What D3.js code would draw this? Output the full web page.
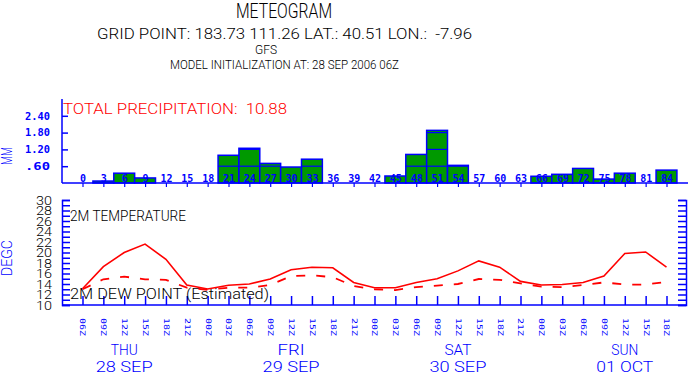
<!DOCTYPE html>
<html>
<head>
<meta charset="utf-8">
<script src="https://cdn.jsdelivr.net/npm/d3@7"></script>
<style>
  body { margin: 0; background: #fff; }
  svg { display: block; }
  text { font-family: "DejaVu Sans Mono", monospace; white-space: pre; }
  .thin { font-family: Roboto, "DejaVu Sans", sans-serif; font-weight: 300; }
</style>
</head>
<body>
<div id="chart"></div>
<script>
// forecast hours (3-hourly from the 06Z init)
const hours = [0, 3, 6, 9, 12, 15, 18, 21, 24, 27, 30, 33, 36, 39, 42, 45, 48, 51, 54, 57, 60, 63, 66, 69, 72, 75, 78, 81, 84];
const timeLabels = ["06Z", "09Z", "12Z", "15Z", "18Z", "21Z", "00Z", "03Z", "06Z", "09Z", "12Z", "15Z", "18Z", "21Z",
  "00Z", "03Z", "06Z", "09Z", "12Z", "15Z", "18Z", "21Z", "00Z", "03Z", "06Z", "09Z", "12Z", "15Z", "18Z"];
// 3h precipitation, mm
const precip = [0, 0.07, 0.35, 0.18, 0, 0, 0, 0.99, 1.24, 0.70, 0.57, 0.85, 0, 0, 0, 0.25, 1.02, 1.88, 0.63,
  0, 0, 0, 0.24, 0.31, 0.52, 0.14, 0.35, 0, 0.46];
// 2m temperature and dew point, degC
const temp = [13.1, 17.3, 20.0, 21.6, 18.7, 13.8, 13.05, 13.75, 14.0, 14.95, 16.7, 17.2, 17.1, 14.3, 13.3, 13.3,
  14.3, 15.0, 16.5, 18.4, 17.2, 14.5, 13.8, 13.9, 14.3, 15.5, 19.8, 20.1, 17.2];
const dewp = [13.0, 14.9, 15.4, 14.9, 14.8, 13.3, 12.9, 13.3, 13.3, 13.8, 15.5, 15.65, 15.3, 13.6, 13.0, 12.85,
  13.4, 13.7, 14.0, 14.95, 14.8, 14.1, 13.5, 13.4, 13.8, 14.3, 13.9, 13.9, 14.4];
const precipTicks = [0.6, 1.2, 1.8, 2.4];
const dayLabels = [
  { hour: 6, day: "THU", date: "28 SEP" },
  { hour: 30, day: "FRI", date: "29 SEP" },
  { hour: 54, day: "SAT", date: "30 SEP" },
  { hour: 78, day: "SUN", date: "01 OCT" }
];

const width = 689, height = 375;
const blue = "#0000ff", red = "#ff0000", green = "#009900";

const svg = d3.select("#chart").append("svg")
  .attr("width", width)
  .attr("height", height);

// titles
function label(txt, x, y, size, len, color, anchor, cls) {
  const t = svg.append("text")
    .attr("x", x).attr("y", y)
    .attr("font-size", size)
    .attr("fill", color || "#000")
    .attr("text-anchor", anchor || "middle")
    .text(txt);
  if (cls) t.attr("class", cls);
  if (len) t.attr("textLength", len).attr("lengthAdjust", "spacingAndGlyphs");
  return t;
}
label("METEOGRAM", 284, 18, 21, 96, "#000", "middle", "thin");
label("GRID POINT: 183.73 111.26 LAT.: 40.51 LON.:  -7.96", 284.5, 39, 14, 375, "#000", "middle", "thin");
label("GFS", 266, 54, 13, 22, "#000", "middle", "thin");
label("MODEL INITIALIZATION AT: 28 SEP 2006 06Z", 284.5, 69, 12, 229, "#000", "middle", "thin");

const x = d3.scaleLinear().domain([0, 84]).range([82.5, 666.5]);
const step = x(3) - x(0);

// ---- precipitation panel ----
const yP = d3.scaleLinear().domain([0, 3]).range([183, 99]);

const bars = svg.append("g");
hours.forEach(function(h, i) {
  const v = precip[i];
  if (v <= 0) return;
  bars.append("rect")
    .attr("x", x(h) - step / 2)
    .attr("y", yP(v))
    .attr("width", step)
    .attr("height", yP(0) - yP(v))
    .attr("fill", green)
    .attr("stroke", blue)
    .attr("stroke-width", 1.5);
  precipTicks.filter(t => t < v).forEach(function(t) {
    bars.append("line")
      .attr("x1", x(h) - step / 2).attr("x2", x(h) + step / 2)
      .attr("y1", yP(t)).attr("y2", yP(t))
      .attr("stroke", blue).attr("stroke-width", 1.2);
  });
});

const pY = svg.append("g")
  .attr("transform", "translate(62,0)")
  .call(d3.axisLeft(yP).tickValues(precipTicks).tickSize(-6).tickPadding(12)
    .tickFormat(d => d === 0.6 ? ".60" : d3.format(".2f")(d)));
pY.select(".domain").remove();
pY.selectAll("line").attr("stroke", blue).attr("stroke-width", 1.5);
pY.selectAll("text").attr("fill", blue).attr("font-size", 10).attr("font-weight", "bold")
  .attr("font-family", "DejaVu Sans Mono").attr("textLength", 25).attr("lengthAdjust", "spacingAndGlyphs");

const pX = svg.append("g")
  .attr("transform", "translate(0,183)")
  .call(d3.axisBottom(x).tickValues(hours).tickSize(4).tickFormat(d => String(d)));
pX.select(".domain").remove();
pX.selectAll("line").attr("stroke", blue).attr("stroke-width", 1.2);
pX.selectAll("text").attr("y", -1.5).attr("dy", 0).attr("fill", blue).attr("font-size", 10)
  .attr("font-weight", "bold").attr("font-family", "DejaVu Sans Mono");

svg.append("line").attr("x1", 62).attr("x2", 62).attr("y1", 99).attr("y2", 183)
  .attr("stroke", blue).attr("stroke-width", 1.5);
svg.append("line").attr("x1", 62).attr("x2", 688).attr("y1", 183).attr("y2", 183)
  .attr("stroke", blue).attr("stroke-width", 1.5);

svg.append("text").attr("transform", "translate(12,156) rotate(-90)")
  .attr("class", "thin")
  .attr("text-anchor", "middle").attr("font-size", 14).attr("fill", blue)
  .attr("textLength", 18).attr("lengthAdjust", "spacingAndGlyphs").text("MM");

label("TOTAL PRECIPITATION:  10.88", 63, 114, 14, 224, red, "start", "thin");

// ---- temperature panel ----
const yT = d3.scaleLinear().domain([10, 30]).range([305, 200]);
const tempTicks = d3.range(10, 31, 1);

const tY = svg.append("g")
  .attr("transform", "translate(62,0)")
  .call(d3.axisLeft(yT).tickValues(tempTicks).tickSize(-8).tickPadding(10)
    .tickFormat(d => d % 2 === 0 ? String(d) : ""));
tY.select(".domain").attr("stroke", blue).attr("stroke-width", 1.5);
tY.selectAll("line").attr("stroke", blue).attr("stroke-width", 1.5);
tY.selectAll("text").attr("fill", "#000").attr("font-size", 10.5)
  .attr("class", "thin")
  .attr("transform", "scale(1,1.2)")
  .attr("textLength", d => d % 2 === 0 ? 16 : null)
  .attr("lengthAdjust", "spacingAndGlyphs");

const tR = svg.append("g")
  .attr("transform", "translate(686,0)")
  .call(d3.axisRight(yT).tickValues(tempTicks).tickSize(-8).tickFormat(""));
tR.select(".domain").attr("stroke", blue).attr("stroke-width", 1.5);
tR.selectAll("line").attr("stroke", blue).attr("stroke-width", 1.5);

const tX = svg.append("g")
  .attr("transform", "translate(0,305)")
  .call(d3.axisBottom(x).tickValues(hours).tickSize(-9).tickSizeOuter(0)
    .tickFormat((d, i) => timeLabels[i]));
tX.select(".domain").remove();
tX.selectAll("line").attr("stroke", blue).attr("stroke-width", 1.5);
tX.selectAll("text")
  .attr("transform", "rotate(90)")
  .attr("x", 13).attr("y", 0).attr("dy", "0.35em")
  .style("text-anchor", "start")
  .attr("fill", blue).attr("font-size", 7.5).attr("font-family", "DejaVu Sans Mono")
  .attr("textLength", 18).attr("lengthAdjust", "spacingAndGlyphs");
svg.append("line").attr("x1", 62).attr("x2", 686).attr("y1", 305).attr("y2", 305)
  .attr("stroke", blue).attr("stroke-width", 1.5);

svg.append("text").attr("transform", "translate(12,258) rotate(-90)")
  .attr("class", "thin")
  .attr("text-anchor", "middle").attr("font-size", 14).attr("fill", blue)
  .attr("textLength", 36).attr("lengthAdjust", "spacingAndGlyphs").text("DEGC");

label("2M TEMPERATURE", 70, 221, 14, 116, "#000", "start", "thin");
label("2M DEW POINT (Estimated)", 70, 299, 14, 199, "#000", "start", "thin");

const line = d3.line()
  .x((d, i) => x(hours[i]))
  .y(d => yT(d));

svg.append("path").datum(temp)
  .attr("d", line).attr("fill", "none")
  .attr("stroke", red).attr("stroke-width", 1.6);
svg.append("path").datum(dewp)
  .attr("d", line).attr("fill", "none")
  .attr("stroke", red).attr("stroke-width", 1.8)
  .attr("stroke-dasharray", "9,11");

// day labels
dayLabels.forEach(function(d) {
  label(d.day, x(d.hour), 355, 15, 27, blue, "middle", "thin");
  label(d.date, x(d.hour), 372, 15, 57, blue, "middle", "thin");
});
</script>
</body>
</html>
